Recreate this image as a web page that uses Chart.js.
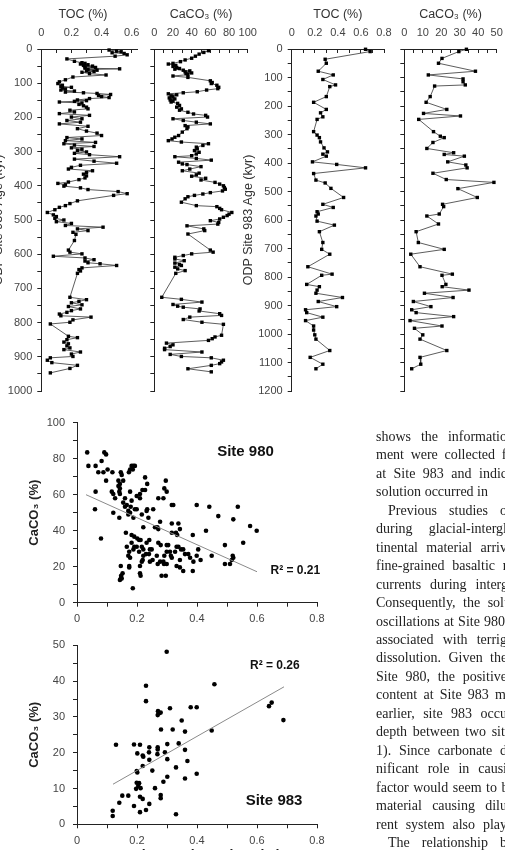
<!DOCTYPE html>
<html><head><meta charset="utf-8">
<script src="https://cdn.jsdelivr.net/npm/chart.js@4/dist/chart.umd.min.js"></script>
<style>
html,body{margin:0;padding:0;width:505px;height:850px;overflow:hidden;background:#fff;position:relative;}
canvas{position:absolute;}
#text{position:absolute;left:376px;top:428px;width:129px;overflow:hidden;font-family:"Liberation Serif","Times New Roman",serif;font-size:14px;line-height:18.45px;color:#222;}
#text div{white-space:nowrap;}
</style></head>
<body>
<canvas id="cA" width="160" height="410" style="left:-9px;top:0px"></canvas>
<canvas id="cB" width="125" height="410" style="left:140px;top:0px"></canvas>
<canvas id="cC" width="160" height="410" style="left:241px;top:0px"></canvas>
<canvas id="cD" width="115" height="410" style="left:390px;top:0px"></canvas>
<canvas id="cE" width="335" height="230" style="left:0px;top:410px"></canvas>
<canvas id="cF" width="335" height="240" style="left:0px;top:635px"></canvas>
<div id="text"></div>
<script>
// ---------- DATA ----------
// ODP Site 980 TOC profile
const toc980Age = [3,6,8,11,13,17,21,29,36,40,42,44,46,48,50,52,54,56,58,60,62,64,66,68,72,76,82,90,96,101,
106,109,112,114,117,120,123,126,128,130,133,136,139,142,145,149,151,153,155,158,162,166,170,175,179,184,189,194,199,204,209,214,219,
226,233,240,246,253,259,263,268,273,277,281,285,289,293,297,301,305,309,315,322,328,334,340,346,351,356,361,366,371,377,382,
389,393,397,401,406,411,417,423,428,444,452,458,463,470,478,485,490,495,500,505,510,516,521,526,531,536,542,
560,588,594,599,606,611,616,620,625,628,633,640,645,649,656,726,733,738,742,748,753,760,765,770,775,780,784,792,799,804,
840,844,850,857,862,868,874,879,886,892,899,903,910,917,925,934,947];
const toc980 = [0.45,0.5,0.53,0.47,0.55,0.57,0.49,0.17,0.22,0.27,0.29,0.26,0.31,0.28,0.34,0.29,0.36,0.29,0.52,0.31,0.37,0.3,0.35,0.27,0.32,0.43,0.21,0.16,0.12,0.11,
0.14,0.13,0.2,0.14,0.16,0.13,0.22,0.16,0.28,0.37,0.46,0.38,0.4,0.45,0.32,0.24,0.3,0.22,0.12,0.27,0.25,0.28,0.3,0.31,0.19,0.22,0.12,0.32,0.2,0.27,0.17,0.26,0.12,
0.31,0.24,0.3,0.37,0.4,0.17,0.27,0.16,0.36,0.15,0.22,0.35,0.2,0.27,0.24,0.3,0.22,0.32,0.52,0.22,0.35,0.5,0.26,0.2,0.18,0.34,0.3,0.28,0.3,0.29,0.25,
0.18,0.11,0.16,0.15,0.26,0.31,0.51,0.57,0.48,0.24,0.19,0.16,0.12,0.09,0.04,0.08,0.1,0.09,0.15,0.1,0.2,0.16,0.41,0.24,0.31,0.21,0.23,
0.22,0.18,0.19,0.27,0.08,0.29,0.35,0.29,0.31,0.39,0.5,0.27,0.25,0.26,0.24,0.19,0.3,0.25,0.2,0.27,0.18,0.26,0.2,0.17,0.12,0.13,0.33,0.21,0.19,0.06,
0.18,0.24,0.17,0.15,0.18,0.17,0.19,0.15,0.26,0.2,0.21,0.06,0.04,0.07,0.24,0.19,0.06];
// ODP Site 980 CaCO3 profile
const caco980Age = [5,10,15,21,27,32,37,42,44,48,51,54,57,59,62,64,67,70,72,75,79,83,93,98,101,106,112,116,120,125,128,131,134,137,140,143,146,149,152,155,159,
165,170,175,179,185,190,194,199,204,209,214,219,224,228,233,243,253,258,263,268,272,277,282,287,292,297,302,307,312,315,320,325,331,336,338,344,351,356,
363,368,372,378,383,390,395,400,405,410,415,420,424,428,432,438,448,458,461,466,470,478,483,487,492,497,502,507,512,517,526,531,541,
588,594,599,604,609,614,619,626,630,633,638,643,648,656,726,732,740,747,752,755,760,766,774,779,784,791,799,805,
837,842,847,852,860,865,870,875,879,886,893,899,903,910,915,920,925,935,944];
const caco980 = [58,53,48,44,40,33,28,20,15,23,20,24,27,22,31,38,33,40,34,36,20,36,60,62,61,67,69,68,56,46,31,15,24,18,20,16,22,17,20,18,25,
27,24,29,27,36,42,55,57,20,31,45,60,33,36,35,30,26,22,19,15,29,58,52,45,46,43,48,45,40,22,45,61,26,30,35,50,38,30,
48,45,40,55,50,65,70,74,75,76,73,60,52,43,36,33,29,45,67,70,72,83,80,78,74,70,60,69,68,35,53,54,36,
60,63,40,31,22,22,32,22,27,29,22,25,33,23,8,29,51,20,25,31,49,48,70,72,38,31,51,74,
72,65,62,58,13,20,17,11,11,51,17,29,61,74,72,70,61,36,61];
// ODP Site 983 TOC profile
const toc983Age = [1,9,36,50,78,91,107,126,132,167,187,212,224,238,247,290,302,311,326,347,361,369,376,396,405,417,437,460,470,489,521,
545,556,571,579,586,604,618,641,679,703,720,764,790,794,826,834,846,857,872,886,904,915,925,941,953,972,986,1003,1018,1058,1082,1106,1122];
const toc983 = [0.64,0.68,0.29,0.3,0.23,0.36,0.27,0.38,0.33,0.3,0.19,0.3,0.25,0.27,0.22,0.19,0.22,0.24,0.25,0.28,0.31,0.27,0.3,0.18,0.39,0.64,0.19,0.21,0.29,0.34,0.45,
0.27,0.36,0.22,0.23,0.21,0.22,0.37,0.24,0.27,0.26,0.33,0.14,0.35,0.26,0.13,0.24,0.22,0.21,0.44,0.23,0.39,0.12,0.13,0.27,0.12,0.19,0.19,0.2,0.21,0.33,0.16,0.27,0.21];
// ODP Site 983 CaCO3 profile
const caco983Age = [1,9,33,50,78,91,105,115,126,130,167,187,212,226,235,247,290,306,311,328,349,364,370,376,396,407,417,436,458,468,490,521,
545,553,579,586,614,641,679,703,720,764,790,794,826,834,846,857,872,886,904,915,925,939,953,972,980,1003,1018,1058,1082,1106,1122];
const caco983 = [33.6,29.5,20.4,18.5,38.5,13,31.8,31.8,33,16.4,14,11.8,23,10.4,30.4,7.8,15.8,19.5,21.6,15.5,12.2,26.7,21.6,32.5,23.5,33.3,34,15.5,22.7,48.5,29,39.5,
20.7,21.3,18.9,12.2,18.5,6.4,7.6,21.6,3.5,8.5,26,20.4,22.5,20.5,35,10.9,26.4,4.9,14.4,4,6.4,26.7,3.1,20.4,5.5,10,8.5,23,8.5,8.9,4];
// Site 980 scatter: TOC (%) vs CaCO3 (%)
const sc980Toc = [0.034,0.091,0.097,0.082,0.038,0.062,0.182,0.188,0.193,0.102,0.177,0.186,0.071,0.088,0.118,0.146,0.173,0.149,0.227,0.097,0.138,0.154,0.296,0.234,0.143,0.138,0.143,0.291,0.218,0.227,
0.062,0.116,0.141,0.177,0.299,0.121,0.143,0.21,0.199,0.127,0.16,0.21,0.271,0.288,0.182,0.154,0.166,0.316,0.321,0.399,0.16,0.179,0.441,0.536,0.06,0.193,0.199,0.234,0.254,0.171,0.232,0.121,0.177,0.171,0.216,
0.471,0.141,0.188,0.238,0.521,0.277,0.316,0.338,0.577,0.221,0.26,0.268,0.343,0.271,0.599,0.43,0.163,0.316,0.33,0.182,0.386,0.334,0.191,0.08,0.201,0.207,0.241,0.212,0.554,0.182,0.232,0.271,
0.493,0.299,0.304,0.279,0.166,0.191,0.199,0.216,0.332,0.338,0.188,0.221,0.243,0.249,0.347,0.354,0.404,0.174,0.207,0.299,0.31,0.327,0.23,0.24,0.36,0.371,0.171,0.221,0.266,0.291,0.313,0.399,0.449,0.519,
0.177,0.316,0.521,0.377,0.219,0.252,0.343,0.412,0.516,0.216,0.243,0.277,0.288,0.388,0.269,0.29,0.299,0.493,0.51,0.146,0.174,0.21,0.332,0.174,0.343,0.354,0.386,0.21,0.152,0.212,0.282,0.296,0.147,0.149,0.146,0.143,0.186];
const sc980Caco = [83.5,83.5,82.4,78.7,76,76,76,76,76,74,74,74,72.5,72.5,72.5,72.5,72.5,71,69.6,67.8,67.8,67.8,67.8,66,66,64.8,63.5,63.5,62.6,62.6,
61.7,61.7,61.7,61.7,61.7,60.4,60.4,60.4,59.3,58,58,58,58,58,56.7,55.6,54.3,54.3,54.3,54.3,53.3,53.3,53.3,53.3,51.9,51.9,51.9,51.9,51.9,51,51,50,50,49,49,
48.1,47.2,47.2,47.2,46.3,45,44,44,42.6,41.9,41.9,41.9,40.9,40.9,40,40,38.9,38.9,38.9,37.6,37.6,37.6,36.7,35.7,35.7,34.8,34.8,34.8,33.3,33.3,33.3,33.3,
32,32,32,32,31.1,31.1,31.1,31.1,31.1,31.1,29.6,29.6,29.6,29.6,29.6,29.6,29.6,28.3,28.3,28.3,28.3,28.3,27,27,27,27,26.1,26.1,26.1,26.1,26.1,26.1,26.1,26.1,
25,25,25,25,23.7,23.7,23.7,23.7,23.7,22.8,22.8,22.8,22.8,22.8,21.5,21.5,21.5,21.5,21.5,20.4,20.4,20.4,20.4,19.6,19.6,17.6,17.6,16.3,16.3,15,15,15,15,13.5,13.5,12.6,8];
// Site 983 scatter: TOC (%) vs CaCO3 (%)
const sc983Toc = [0.299,0.23,0.458,0.23,0.27,0.274,0.279,0.269,0.31,0.379,0.399,0.349,0.64,0.649,0.688,0.28,0.319,0.36,0.449,0.13,0.19,0.21,0.241,0.269,0.269,0.301,0.339,0.24,0.201,0.219,0.221,0.268,0.293,0.36,
0.301,0.241,0.368,0.219,0.33,0.251,0.199,0.201,0.399,0.301,0.36,0.288,0.199,0.207,0.204,0.197,0.212,0.26,0.279,0.279,0.151,0.171,0.141,0.21,0.219,0.19,0.241,0.23,0.21,0.119,0.119,0.33];
const sc983Caco = [48.2,38.7,39.1,34.4,31.6,31,31.2,30.5,32.4,32.7,32.7,29,33,34,29.1,26.5,26.5,25.9,26.2,22.2,22.3,22.2,21.5,21.5,20.9,22.4,22.6,20.1,19.8,19.2,18.9,19.6,20.1,20.8,
18.2,18,17.7,16.3,15.9,15,14.9,14.5,14.1,13.3,12.8,11.9,11.6,11.5,10.7,9.9,10.1,10.1,8.2,7.3,8,8,6,7.7,7.1,5.1,5.7,4,3.4,3.8,2.3,2.8];
// regression line end points
const fit980Toc = [0.03, 0.6];
const fit980Caco = [60, 17.2];
const fit983Toc = [0.12, 0.69];
const fit983Caco = [11.2, 38.4];
// annotation texts
const labels980 = ['Site 980', 'R\u00B2 = 0.21'];
const labels983 = ['R\u00B2 = 0.26', 'Site 983'];

// ---------- body text beside the figure (visible part, hidden continuation, x where visible part ends, indent) ----------
const textLines = [
  ['shows the informatio', 'n that the sedi-', 507, 0],
  ['ment were collected', ' from the area', 495, 0],
  ['at Site 983 and indic', 'ates that dis-', 507, 0],
  ['solution occurred in', '', 488, 0],
  ['Previous studies o', 'n the deposition', 507, 12],
  ['during glacial-intergl', 'acial cycles, con-', 507, 0],
  ['tinental material arriv', 'ed at the site', 507, 0],
  ['fine-grained basaltic', ' material by', 495, 0],
  ['currents during inter', 'glacial periods.', 501, 0],
  ['Consequently, the sol', 'ution of the', 504, 0],
  ['oscillations at Site 980', ' was mainly', 505, 0],
  ['associated with terrig', 'enous dilution and', 507, 0],
  ['dissolution. Given th', 'e relationship at', 501, 0],
  ['Site 980, the positive', ' correlation of', 507, 0],
  ['content at Site 983 m', 'ay be caused. As', 506, 0],
  ['earlier, site 983 occu', 'rs at the middle', 507, 0],
  ['depth between two si', 'tes (see Figure', 501, 0],
  ['1). Since carbonate d', 'issolution has a sig-', 507, 0],
  ['nificant role in causi', 'ng the lower values,', 507, 0],
  ['factor would seem to', ' be terrigenous', 497, 0],
  ['material causing dilu', 'tion and the cur-', 507, 0],
  ['rent system also play', 's an important role.', 507, 0],
  ['The relationship b', 'etween the', 507, 12]
];

// ---------- RENDERING ----------
(function buildText() {
  const box = document.getElementById('text');
  const left = 376;
  textLines.forEach(l => {
    const d = document.createElement('div');
    d.style.paddingLeft = l[3] + 'px';
    const s = document.createElement('span');
    s.textContent = l[0];
    d.appendChild(s);
    if (l[1]) d.appendChild(document.createTextNode(l[1]));
    box.appendChild(d);
    const w = s.getBoundingClientRect().width;
    const n = (l[0].match(/ /g) || []).length;
    const target = l[2] - left - l[3];
    if (n > 0) d.style.wordSpacing = ((target - w) / n).toFixed(2) + 'px';
    else d.style.letterSpacing = ((target - w) / l[0].length).toFixed(2) + 'px';
  });
})();

const SANS = '"Liberation Sans", Arial, Helvetica, sans-serif';
Chart.defaults.font.family = SANS;
Chart.defaults.color = '#444';
const AX = '#222';
const pts = (xs, ys) => xs.map((x, i) => ({x: x, y: ys[i]}));
const near = (v, m) => Math.abs(v / m - Math.round(v / m)) < 1e-6;

const textPlugin = {
  id: 'texts',
  afterDraw(chart, args, opts) {
    const ctx = chart.ctx;
    (opts.items || []).forEach(it => {
      ctx.save();
      ctx.font = it.font;
      ctx.fillStyle = it.color || '#111';
      ctx.textAlign = it.align || 'left';
      ctx.textBaseline = 'middle';
      ctx.fillText(it.text, it.x, it.y);
      ctx.restore();
    });
  }
};

function profile(id, ages, vals, c) {
  return new Chart(document.getElementById(id), {
    type: 'scatter',
    data: {datasets: [{data: pts(vals, ages), showLine: true, borderColor: '#333', borderWidth: 0.8,
      pointStyle: 'rect', pointRadius: 2.4, pointBackgroundColor: '#000', pointBorderWidth: 0, clip: false}]},
    options: {
      responsive: false, animation: false, events: [],
      layout: {padding: {left: 0, top: 0, right: c.padR, bottom: c.padB}},
      plugins: {legend: {display: false}, tooltip: {enabled: false}, texts: {items: c.items || []}},
      scales: {
        x: {type: 'linear', position: 'top', min: 0, max: c.xMax,
          ticks: {stepSize: c.xStep, includeBounds: false, autoSkip: false, maxRotation: 0, padding: 13, font: {size: 11}, color: '#444',
            callback: v => near(v, c.xLab) ? String(+v.toFixed(2)) : ''},
          grid: {display: true, drawOnChartArea: false, drawTicks: true, tickLength: -4, color: AX},
          border: {display: true, color: AX, width: 1},
          title: {display: !!c.xTitle, text: c.xTitle, font: {size: 12.5}, color: '#333', padding: {top: 7.2, bottom: 0}},
          afterFit: s => { s.height = 49; s.paddingLeft = 0; s.paddingRight = 0; }
        },
        y: {type: 'linear', reverse: true, min: 0, max: c.yMax,
          ticks: {stepSize: 50, includeBounds: false, autoSkip: false, padding: 5, font: {size: 11}, color: '#444',
            callback: v => (c.yLabels && near(v, 100)) ? String(v) : ''},
          grid: {display: true, drawOnChartArea: false, drawTicks: true, tickLength: 4, color: AX},
          border: {display: true, color: AX, width: 1},
          title: {display: !!c.yTitle, text: c.yTitle, font: {size: 12.5}, color: '#333', padding: {top: 0, bottom: 0}},
          afterFit: s => { s.width = c.leftW; s.paddingTop = 0; s.paddingBottom = 0; }
        }
      }
    },
    plugins: [textPlugin]
  });
}

profile('cA', toc980Age, toc980, {xMax: 0.64, xStep: 0.1, xLab: 0.2, yMax: 1000, yLabels: true,
  yTitle: 'ODP Site 980 Age (kyr)', leftW: 50.3, padR: 13.3, padB: 19,
  items: [{text: 'TOC (%)', x: 92, y: 15, font: '12.5px ' + SANS, color: '#333', align: 'center'}]});
profile('cB', caco980Age, caco980, {xMax: 100, xStep: 10, xLab: 20, yMax: 1000, yLabels: false,
  xTitle: 'CaCO\u2083 (%)', leftW: 14.3, padR: 17.3, padB: 19});
profile('cC', toc983Age, toc983, {xMax: 0.8, xStep: 0.1, xLab: 0.2, yMax: 1200, yLabels: true,
  xTitle: 'TOC (%)', yTitle: 'ODP Site 983 Age (kyr)', leftW: 50.7, padR: 17, padB: 19});
profile('cD', caco983Age, caco983, {xMax: 50, xStep: 5, xLab: 10, yMax: 1200, yLabels: false,
  xTitle: 'CaCO\u2083 (%)', leftW: 14.3, padR: 8.3, padB: 19});

function scatter(id, xs, ys, fx, fy, c) {
  return new Chart(document.getElementById(id), {
    type: 'scatter',
    data: {datasets: [
      {data: pts(fx, fy), showLine: true, borderColor: '#8a8a8a', borderWidth: 1, pointRadius: 0},
      {data: pts(xs, ys), pointRadius: 2.3, pointBackgroundColor: '#000', pointBorderWidth: 0, clip: false}
    ]},
    options: {
      responsive: false, animation: false, events: [],
      layout: {padding: {left: 0, top: c.padT, right: 18, bottom: c.padB}},
      plugins: {legend: {display: false}, tooltip: {enabled: false}, texts: {items: c.items}},
      scales: {
        x: {type: 'linear', position: 'bottom', min: 0, max: 0.8,
          ticks: {stepSize: 0.1, includeBounds: false, autoSkip: false, maxRotation: 0, padding: 6, font: {size: 11}, color: '#444',
            callback: v => near(v, 0.2) ? String(+v.toFixed(2)) : ''},
          grid: {display: true, drawOnChartArea: false, drawTicks: true, tickLength: 4, color: AX},
          border: {display: true, color: AX, width: 1},
          title: {display: !!c.xTitle, text: c.xTitle, font: {size: 14, weight: 'bold'}, color: '#222', padding: {top: 0, bottom: 4.6}},
          afterFit: s => { s.height = c.botH; s.paddingLeft = 0; s.paddingRight = 0; }
        },
        y: {type: 'linear', min: 0, max: c.yMax,
          ticks: {stepSize: c.yStep, includeBounds: false, autoSkip: false, padding: 8, font: {size: 11}, color: '#444',
            callback: v => near(v, c.yLab) ? String(v) : ''},
          grid: {display: true, drawOnChartArea: false, drawTicks: true, tickLength: 4, color: AX},
          border: {display: true, color: AX, width: 1},
          title: {display: true, text: 'CaCO\u2083 (%)', font: {size: 13, weight: 'bold'}, color: '#222', padding: {top: 27, bottom: 0}},
          afterFit: s => { s.width = 77; s.paddingTop = 0; s.paddingBottom = 0; }
        }
      }
    },
    plugins: [textPlugin]
  });
}

scatter('cE', sc980Toc, sc980Caco, fit980Toc, fit980Caco, {yMax: 100, yStep: 10, yLab: 20, padT: 12.7, padB: 7.3, botH: 30,
  items: [{text: labels980[0], x: 245.5, y: 42, font: 'bold 15px ' + SANS, align: 'center'},
          {text: labels980[1], x: 270.5, y: 161, font: 'bold 12px ' + SANS, align: 'left'}]});
scatter('cF', sc983Toc, sc983Caco, fit983Toc, fit983Caco, {yMax: 50, yStep: 5, yLab: 10, padT: 10.3, padB: 5.7, botH: 45,
  xTitle: 'Total Organic Carbon (%)',
  items: [{text: labels983[0], x: 250, y: 31, font: 'bold 12px ' + SANS, align: 'left'},
          {text: labels983[1], x: 245.7, y: 166, font: 'bold 15px ' + SANS, align: 'left'}]});
</script>
</body></html>
